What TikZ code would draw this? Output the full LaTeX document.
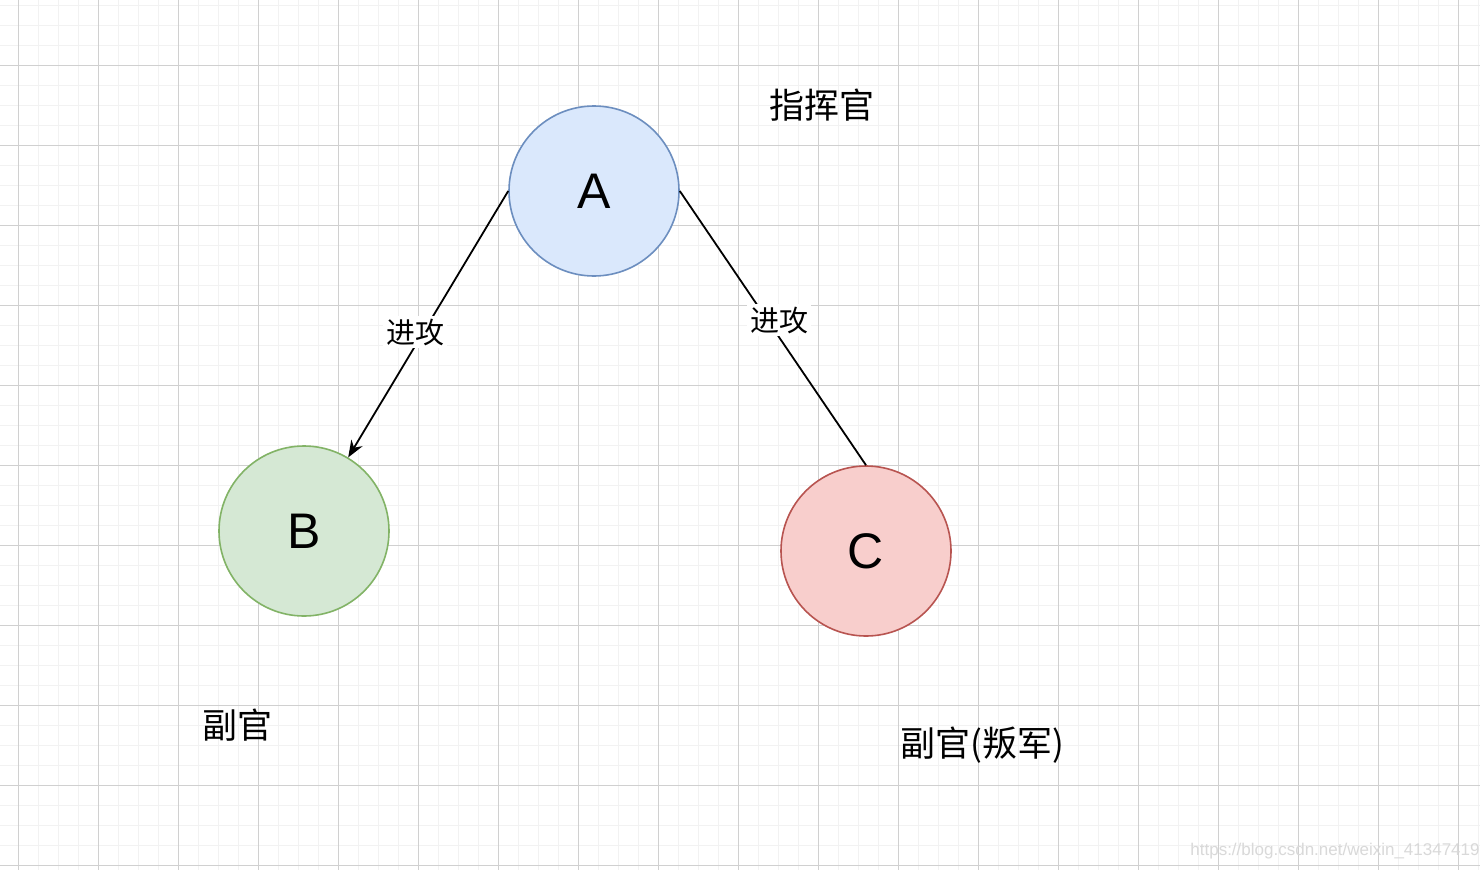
\documentclass[tikz,border=0pt]{standalone}
\usepackage{fontspec}
\setmainfont{Liberation Sans}
\newfontfamily\cjk{Noto Sans CJK SC}
\usetikzlibrary{arrows.meta}
\definecolor{aF}{HTML}{DAE8FC}\definecolor{aS}{HTML}{6C8EBF}
\definecolor{bF}{HTML}{D5E8D4}\definecolor{bS}{HTML}{82B366}
\definecolor{cF}{HTML}{F8CECC}\definecolor{cS}{HTML}{B85450}
\definecolor{minorg}{HTML}{F2F2F2}\definecolor{majorg}{HTML}{D0D0D0}
\tikzset{circ/.style={circle,minimum size=170pt,inner sep=0pt,line width=1.6pt,font=\fontsize{50}{54}\selectfont},
 lbl/.style={fill=white,inner sep=3pt,font=\cjk\fontsize{29}{31}\selectfont},
 title/.style={font=\cjk\fontsize{35}{38}\selectfont}}
\begin{document}
\begin{tikzpicture}[x=1pt,y=-1pt]
\useasboundingbox (0,0) rectangle (1480,870);
\fill[white] (0,0) rectangle (1480,870);
\foreach \x in {-2,18,...,1480} \draw[minorg,line width=1pt] (\x,0) -- (\x,870);
\foreach \y in {5,25,...,870} \draw[minorg,line width=1pt] (0,\y) -- (1480,\y);
\foreach \x in {18,98,...,1480} \draw[majorg,line width=1pt] (\x,0) -- (\x,870);
\foreach \y in {65,145,...,870} \draw[majorg,line width=1pt] (0,\y) -- (1480,\y);
\node[circ,draw=aS,fill=aF] (A) at (594,191) {A};
\node[circ,draw=bS,fill=bF] (B) at (304,531) {B};
\node[circ,draw=cS,fill=cF] (C) at (866,551) {C};
\draw[line width=1.8pt,-{Stealth[length=17pt,width=13pt]}] (A.west) -- (B.59);
\draw[line width=1.8pt] (A.east) -- (C.north);
\node[lbl] (l1) at (415,332) {进攻};
\node[lbl] (l2) at (779,320) {进攻};
\node[title] (t1) at (822,105) {指挥官};
\node[title] (t2) at (237,725) {副官};
\node[title] (t3) at (982,745) {副官(叛军)};
\node[text=black!15,font=\fontsize{17}{19}\selectfont] (wm) at (1335,851) {https://blog.csdn.net/weixin\_41347419};
\end{tikzpicture}
\end{document}
